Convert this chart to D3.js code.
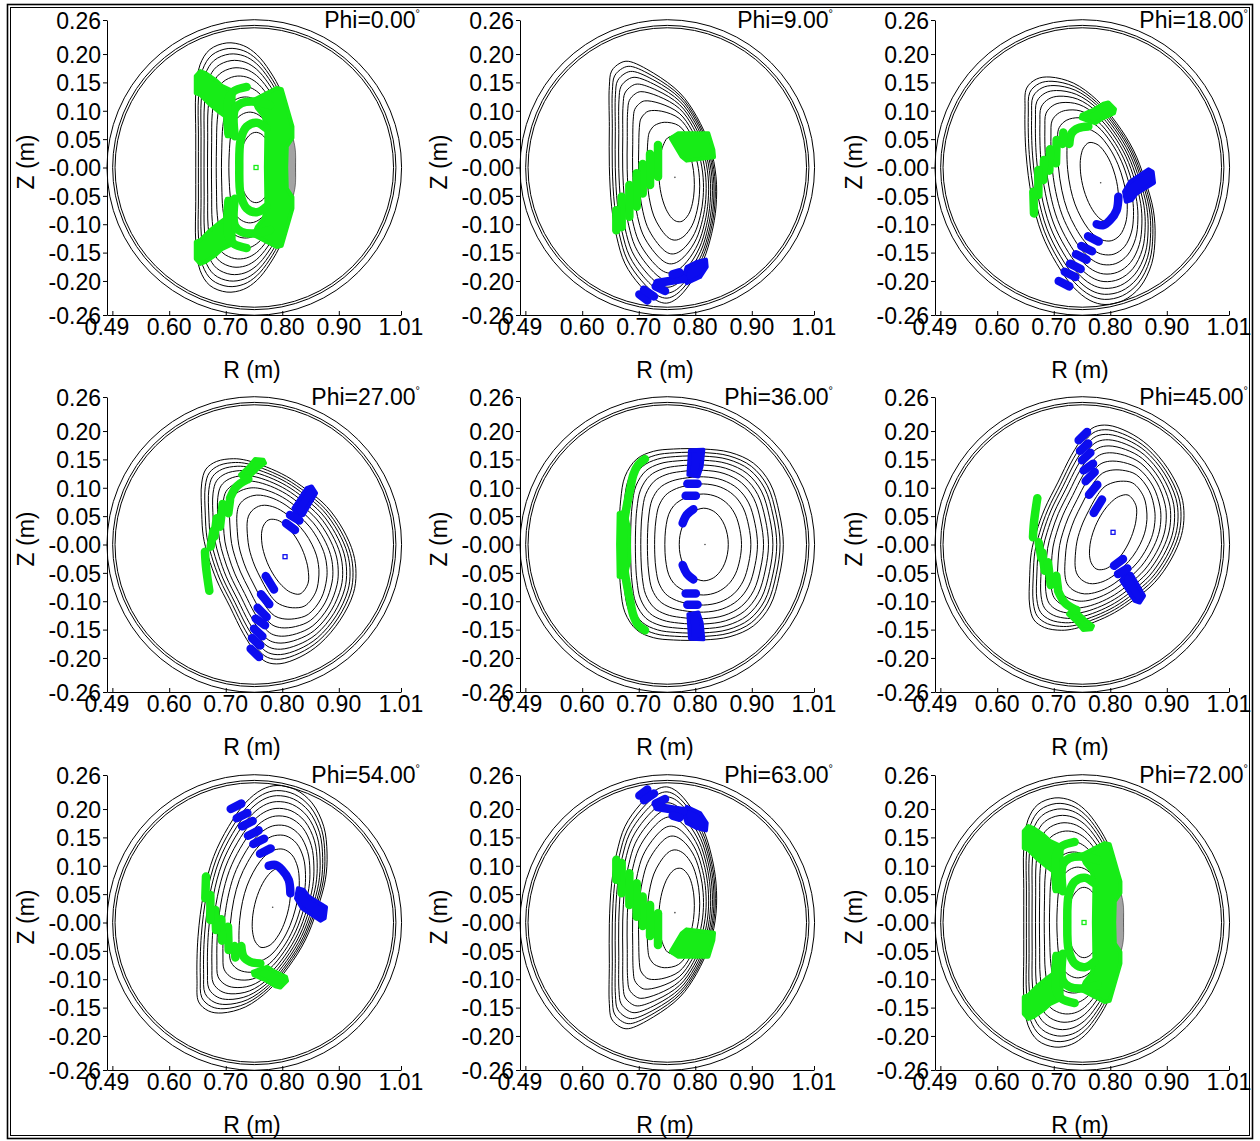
<!DOCTYPE html>
<html>
<head>
<meta charset="utf-8">
<script src="https://cdnjs.cloudflare.com/ajax/libs/d3/7.8.5/d3.min.js"></script>
<style>
  body { margin: 0; background: #fff; }
  svg { display: block; }
  text { font-family: "Liberation Sans", Arial, Helvetica, sans-serif; fill: #000; }
</style>
</head>
<body>
<svg id="chart" width="1260" height="1141"></svg>
<script>
"use strict";

// ---- axes / labels ----
const phiLabels = ['0.00', '9.00', '18.00', '27.00', '36.00', '45.00', '54.00', '63.00', '72.00'];
const yTickValues = [0.26, 0.20, 0.15, 0.10, 0.05, 0, -0.05, -0.10, -0.15, -0.20, -0.26];
const yTickLabels = ['0.26', '0.20', '0.15', '0.10', '0.05', '-0.00', '-0.05', '-0.10', '-0.15', '-0.20', '-0.26'];
const xTickValues = [0.4995, 0.60, 0.70, 0.80, 0.90, 1.01];
const xLabelValues = [0.49, 0.60, 0.70, 0.80, 0.90, 1.01];
const xTickLabels = ['0.49', '0.60', '0.70', '0.80', '0.90', '1.01'];

// vacuum vessel (R, Z centre and radii, m)
const vesselCenter = [0.7505, 0];
const vesselRadii = [0.2605, 0.2505, 0.2463];

// flux surfaces go from the core ellipse (0) to the boundary (1)
const surfaceLevels = [0, 0.24, 0.41, 0.53, 0.64, 0.73, 0.81, 0.88, 0.94, 1];

// ---- Phi = 0 ----
const axis00 = [0.7536, 0];
const core00 = [0.7536, 0, 0.062, 0.0296, 90];   // R0, Z0, semi-major, semi-minor, tilt (deg)
const outer00 = [[0.8226, 0], [0.8166, 0.0604], [0.799, 0.131], [0.778, 0.170], [0.755, 0.199], [0.731, 0.215],
  [0.702, 0.2196], [0.672, 0.208], [0.6545, 0.181], [0.647, 0.131], [0.647, 0.060], [0.647, 0], [0.647, -0.060],
  [0.647, -0.131], [0.6545, -0.181], [0.672, -0.208], [0.702, -0.2196], [0.731, -0.215], [0.755, -0.199],
  [0.778, -0.170], [0.799, -0.131], [0.8166, -0.0604]];
const dense00 = [[0.806, 0], [0.809, 0.035], [0.8165, 0.055], [0.8226, 0.035], [0.8235, 0], [0.8226, -0.035],
  [0.8165, -0.055], [0.809, -0.035]];
const greenPatches00 = [
  [[0.647, 0.161], [0.655, 0.170], [0.663, 0.167], [0.681, 0.155], [0.693, 0.144], [0.708, 0.137], [0.714, 0.128],
    [0.714, 0.102], [0.711, 0.055], [0.702, 0.055], [0.699, 0.090], [0.687, 0.099], [0.672, 0.111], [0.655, 0.128], [0.647, 0.131]],
  [[0.647, -0.161], [0.655, -0.170], [0.663, -0.167], [0.681, -0.155], [0.693, -0.144], [0.708, -0.137], [0.714, -0.128],
    [0.714, -0.102], [0.711, -0.055], [0.702, -0.055], [0.699, -0.090], [0.687, -0.099], [0.672, -0.111], [0.655, -0.128], [0.647, -0.131]],
  [[0.749, 0.119], [0.761, 0.125], [0.790, 0.140], [0.799, 0.138], [0.818, 0.072], [0.818, 0.052], [0.808, 0.037],
    [0.807, 0], [0.808, -0.037], [0.818, -0.052], [0.818, -0.072], [0.799, -0.138], [0.790, -0.140], [0.761, -0.125],
    [0.749, -0.119], [0.755, -0.105], [0.767, -0.090], [0.772, -0.069], [0.771, 0], [0.772, 0.069], [0.767, 0.090], [0.755, 0.105]]
];
const greenLines00 = [
  [[0.772, 0.069], [0.755, 0.079], [0.737, 0.072], [0.7265, 0.049], [0.724, 0], [0.7265, -0.049], [0.737, -0.072], [0.755, -0.079], [0.772, -0.069]],
  [[0.716, 0.055], [0.716, 0.102], [0.728, 0.1135], [0.755, 0.116], [0.778, 0.110]],
  [[0.716, -0.055], [0.716, -0.102], [0.728, -0.1135], [0.755, -0.116], [0.778, -0.110]],
  [[0.7046, 0.060], [0.7046, 0.119], [0.7135, 0.134], [0.737, 0.142]],
  [[0.7046, -0.060], [0.7046, -0.119], [0.7135, -0.134], [0.737, -0.142]]
];

// ---- Phi = 9 ----
const axis09 = [0.764, -0.0174];
const core09 = [0.767, -0.019, 0.077, 0.031, 94];
const outer09 = [[0.648, 0.143], [0.652, 0.170], [0.667, 0.184], [0.6816, 0.1872], [0.7258, 0.1666], [0.773, 0.1312],
  [0.8025, 0.0899], [0.8261, 0.0368], [0.8367, -0.0162], [0.8367, -0.0693], [0.829, -0.1164], [0.8143, -0.1636],
  [0.7907, -0.2049], [0.7671, -0.2314], [0.7494, -0.2391], [0.7317, -0.2344], [0.7023, -0.2078], [0.6757, -0.1695],
  [0.661, -0.1223], [0.6521, -0.0693], [0.648, 0.0015], [0.648, 0.0722]];
const greenPatches09 = [
  [[0.7565, 0.0516], [0.7701, 0.0604], [0.8231, 0.0604], [0.832, 0.031], [0.8332, 0.018], [0.7848, 0.0121], [0.776, 0.0192]]
];
const greenLines09 = [
  [[0.7341, 0.0398], [0.7341, -0.0162]],
  [[0.7200, 0.0239], [0.7200, -0.031]],
  [[0.7070, 0.0062], [0.7070, -0.0457]],
  [[0.6964, -0.0103], [0.6964, -0.0693]],
  [[0.6834, -0.031], [0.6834, -0.087]],
  [[0.6698, -0.0516], [0.6698, -0.1047]],
  [[0.6604, -0.0752], [0.6604, -0.1105]]
];
const bluePatches09 = [
  [[0.7789, -0.1931], [0.7848, -0.1754], [0.8025, -0.1666], [0.819, -0.1624], [0.8202, -0.1754], [0.8084, -0.1931], [0.7848, -0.2037]]
];
const blueLines09 = [
  [[0.7011, -0.2237], [0.7152, -0.2344]],
  [[0.7093, -0.2155], [0.727, -0.2273]],
  [[0.730, -0.2096], [0.7465, -0.2178]],
  [[0.7329, -0.2037], [0.7789, -0.196]],
  [[0.760, -0.1884], [0.7718, -0.1848]]
];

// ---- Phi = 18 ----
const axis18 = [0.783, -0.027];
const core18 = [0.7807, -0.0257, 0.072, 0.030, 104];
const outer18 = [[0.6492, 0.1017], [0.6521, 0.140], [0.6698, 0.156], [0.6934, 0.1595], [0.7347, 0.1489], [0.776, 0.1194],
  [0.8113, 0.0781], [0.8408, 0.031], [0.8615, -0.0221], [0.8762, -0.0752], [0.8792, -0.1223], [0.8733, -0.1695],
  [0.8526, -0.2108], [0.8231, -0.2344], [0.7907, -0.2415], [0.7642, -0.2344], [0.7347, -0.2108], [0.7052, -0.1695],
  [0.6787, -0.1164], [0.661, -0.0516], [0.651, 0.025]];
const greenPatches18 = [
  [[0.7494, 0.0929], [0.7701, 0.1017], [0.7878, 0.1123], [0.7966, 0.1147], [0.8084, 0.1029], [0.8066, 0.0958],
    [0.7878, 0.087], [0.773, 0.0781], [0.7583, 0.0829], [0.7477, 0.087]]
];
const greenLines18 = [
  [[0.7276, 0.0416], [0.7317, 0.0604], [0.7435, 0.0693], [0.7612, 0.0722]],
  [[0.717, 0.0616], [0.7158, 0.0416]],
  [[0.7052, 0.0486], [0.704, 0.0074]],
  [[0.6934, 0.0321], [0.6922, -0.0056]],
  [[0.6828, 0.0133], [0.6816, -0.0221]],
  [[0.6728, -0.0044], [0.6728, -0.0486]],
  [[0.6639, -0.0427], [0.6651, -0.0811]]
];
const bluePatches18 = [
  [[0.8243, -0.0427], [0.8349, -0.0251], [0.8674, -0.0032], [0.875, -0.0074], [0.8774, -0.0268], [0.8467, -0.0457],
    [0.8379, -0.0575], [0.8278, -0.0604]]
];
const blueLines18 = [
  [[0.8143, -0.0516], [0.8113, -0.0752], [0.7996, -0.0929], [0.7878, -0.1017], [0.776, -0.0999]],
  [[0.7607, -0.1212], [0.7795, -0.1306]],
  [[0.7489, -0.1383], [0.7677, -0.1477]],
  [[0.7394, -0.153], [0.7582, -0.1624]],
  [[0.7288, -0.1695], [0.7476, -0.1789]],
  [[0.7194, -0.1837], [0.7382, -0.1931]],
  [[0.7088, -0.2002], [0.7276, -0.2096]]
];

// ---- Phi = 27 ----
const axis27 = [0.8049, -0.0215];
const core27 = [0.8049, -0.0215, 0.071, 0.033, 114];
const outer27 = [[0.6575, 0.1082], [0.6651, 0.133], [0.684, 0.1465], [0.7135, 0.1512], [0.7371, 0.1483], [0.7724, 0.1365],
  [0.8078, 0.12], [0.8432, 0.0964], [0.8786, 0.0669], [0.908, 0.0256], [0.9257, -0.0156], [0.9304, -0.051],
  [0.9257, -0.0864], [0.9021, -0.1336], [0.8668, -0.1748], [0.8314, -0.1984], [0.796, -0.2102], [0.7724, -0.2073],
  [0.7547, -0.1926], [0.7312, -0.1572], [0.7076, -0.11], [0.684, -0.0628], [0.6692, -0.0215], [0.6604, 0.0139], [0.6575, 0.0551]];
const greenPatches27 = [
  [[0.7253, 0.1229], [0.74, 0.1365], [0.7518, 0.1506], [0.7665, 0.1494], [0.7695, 0.1435], [0.7547, 0.1318], [0.743, 0.12], [0.7282, 0.1188]]
];
const greenLines27 = [
  [[0.671, -0.0817], [0.6651, -0.0392], [0.6633, -0.0127]],
  [[0.6734, -0.0038], [0.6781, 0.0245]],
  [[0.6799, 0.0139], [0.684, 0.0463]],
  [[0.6899, 0.0315], [0.6946, 0.0716]],
  [[0.7046, 0.0551], [0.7076, 0.0787]],
  [[0.7076, 0.0817], [0.7194, 0.1023], [0.7371, 0.1141], [0.74, 0.1153]]
];
const bluePatches27 = [
  [[0.8196, 0.0639], [0.8432, 0.0993], [0.852, 0.1023], [0.8597, 0.0905], [0.8373, 0.0522], [0.8272, 0.048]]
];
const blueLines27 = [
  [[0.8137, 0.0522], [0.8302, 0.0422]],
  [[0.8066, 0.0374], [0.8225, 0.0256]],
  [[0.7707, -0.0557], [0.7854, -0.0793]],
  [[0.7624, -0.0876], [0.7771, -0.1052]],
  [[0.7565, -0.1117], [0.7724, -0.1277]],
  [[0.753, -0.1306], [0.7695, -0.1424]],
  [[0.75, -0.1483], [0.7648, -0.1618]],
  [[0.7465, -0.165], [0.761, -0.178]],
  [[0.7441, -0.1837], [0.7589, -0.1984]]
];

// ---- Phi = 36 ----
const axis36 = [0.8172, 0];
const core36 = [0.815, 0, 0.064, 0.0434, 90];
const outer36 = [[0.9558, 0], [0.9487, 0.0551], [0.9322, 0.1082], [0.9027, 0.1436], [0.8615, 0.1624], [0.8143, 0.1683],
  [0.7612, 0.1683], [0.7258, 0.1642], [0.6964, 0.1506], [0.6757, 0.12], [0.6681, 0.0787], [0.6657, 0.0315],
  [0.6657, -0.0315], [0.6681, -0.0787], [0.6757, -0.12], [0.6964, -0.1506], [0.7258, -0.1642], [0.7612, -0.1683],
  [0.8143, -0.1683], [0.8615, -0.1624], [0.9027, -0.1436], [0.9322, -0.1082], [0.9487, -0.0551]];
const greenPatches36 = [
  [[0.6645, 0.055], [0.676, 0.058], [0.6825, 0.03], [0.683, -0.03], [0.676, -0.058], [0.6645, -0.057], [0.6635, 0]]
];
const greenLines36 = [
  [[0.7111, 0.1506], [0.6993, 0.1406], [0.6905, 0.1229], [0.6846, 0.0964], [0.6787, 0.0669], [0.674, 0.0374], [0.6728, 0],
    [0.674, -0.0392], [0.6787, -0.0687], [0.6846, -0.0982], [0.6905, -0.1247], [0.6993, -0.1424], [0.7111, -0.1512]]
];
const bluePatches36 = [
  [[0.7907, 0.166], [0.8143, 0.1672], [0.8113, 0.1377], [0.8054, 0.12], [0.7878, 0.1229]],
  [[0.7907, -0.166], [0.8143, -0.1672], [0.8113, -0.1377], [0.8054, -0.12], [0.7878, -0.1229]]
];
const blueLines36 = [
  [[0.786, 0.107], [0.804, 0.107]],
  [[0.783, 0.0858], [0.801, 0.0858]],
  [[0.7966, 0.0622], [0.7848, 0.0522], [0.7777, 0.0374]],
  [[0.7777, -0.0363], [0.7848, -0.051], [0.7966, -0.0616]],
  [[0.783, -0.0864], [0.801, -0.0864]],
  [[0.786, -0.1064], [0.804, -0.1064]]
];

const sections = [
  { axis: axis00, axisMark: 'green', core: core00, outer: outer00, dense: dense00,
    greenPatches: greenPatches00, greenLines: greenLines00, bluePatches: [], blueLines: [] },
  { axis: axis09, axisMark: 'dot', core: core09, outer: outer09, dense: null,
    greenPatches: greenPatches09, greenLines: greenLines09, bluePatches: bluePatches09, blueLines: blueLines09 },
  { axis: axis18, axisMark: 'dot', core: core18, outer: outer18, dense: null,
    greenPatches: greenPatches18, greenLines: greenLines18, bluePatches: bluePatches18, blueLines: blueLines18 },
  { axis: axis27, axisMark: 'blue', core: core27, outer: outer27, dense: null,
    greenPatches: greenPatches27, greenLines: greenLines27, bluePatches: bluePatches27, blueLines: blueLines27 },
  { axis: axis36, axisMark: 'dot', core: core36, outer: outer36, dense: null,
    greenPatches: greenPatches36, greenLines: greenLines36, bluePatches: bluePatches36, blueLines: blueLines36 }
];

// Phi and 72-Phi are the same section mirrored in Z (stellarator symmetry)
const panelSource = [0, 1, 2, 3, 4, 3, 2, 1, 0];
const panelFlip = [false, false, false, false, false, true, true, true, true];

// ---- layout ----
const colLeft = [107, 520, 935];
const rowTop = [20, 397, 775];
const plotW = 294;
const plotH = 295;
const GREEN = '#17ec17';
const BLUE = '#0c0cef';
const FONT = 23;

const svg = d3.select('#chart');
svg.append('rect').attr('width', 1260).attr('height', 1141).attr('fill', '#fff');
svg.append('rect').attr('x', 7.5).attr('y', 4.5).attr('width', 1245).attr('height', 1134)
  .attr('fill', 'none').attr('stroke', '#000').attr('stroke-width', 1.6);
svg.append('rect').attr('x', 10.5).attr('y', 7.5).attr('width', 1239).attr('height', 1128)
  .attr('fill', 'none').attr('stroke', '#000').attr('stroke-width', 1);

function nestedSurfaces(outer, core) {
  const [cR, cZ, a, b, tiltDeg] = core;
  const tilt = tiltDeg * Math.PI / 180;
  return surfaceLevels.map((s) => outer.map(([R, Z]) => {
    const dR = R - cR, dZ = Z - cZ;
    const rOut = Math.hypot(dR, dZ);
    const psi = Math.atan2(dZ, dR) - tilt;
    const rIn = a * b / Math.hypot(b * Math.cos(psi), a * Math.sin(psi));
    const r = rIn + s * (rOut - rIn);
    return [cR + dR / rOut * r, cZ + dZ / rOut * r];
  }));
}

phiLabels.forEach((phi, i) => {
  const L = colLeft[i % 3];
  const T = rowTop[Math.floor(i / 3)];
  const src = sections[panelSource[i]];
  const f = panelFlip[i] ? -1 : 1;
  const m = (p) => [p[0], f * p[1]];
  const mList = (pts) => pts.map(m);

  const x = d3.scaleLinear().domain([0.49, 1.01]).range([L, L + plotW]);
  const y = d3.scaleLinear().domain([-0.26, 0.26]).range([T + plotH, T]);

  const smoothClosed = d3.line().x((d) => x(d[0])).y((d) => y(d[1])).curve(d3.curveCatmullRomClosed.alpha(0.5));
  const polygon = d3.line().x((d) => x(d[0])).y((d) => y(d[1])).curve(d3.curveLinearClosed);
  const trail = d3.line().x((d) => x(d[0])).y((d) => y(d[1])).curve(d3.curveCatmullRom.alpha(0.5));

  const g = svg.append('g').attr('class', 'panel');

  // vessel walls
  g.selectAll('ellipse.wall').data(vesselRadii).join('ellipse')
    .attr('class', 'wall')
    .attr('cx', x(vesselCenter[0])).attr('cy', y(vesselCenter[1]))
    .attr('rx', (r) => x(vesselCenter[0] + r) - x(vesselCenter[0]))
    .attr('ry', (r) => y(vesselCenter[1]) - y(vesselCenter[1] + r))
    .attr('fill', 'none').attr('stroke', '#000').attr('stroke-width', 1);

  // flux surfaces
  const core = [src.core[0], f * src.core[1], src.core[2], src.core[3], f * src.core[4]];
  g.selectAll('path.surf').data(nestedSurfaces(mList(src.outer), core)).join('path')
    .attr('class', 'surf')
    .attr('d', smoothClosed)
    .attr('fill', 'none').attr('stroke', '#000').attr('stroke-width', 1);

  if (src.dense) {
    g.append('path').attr('d', smoothClosed(mList(src.dense)))
      .attr('fill', '#a3a3a3').attr('stroke', '#333').attr('stroke-width', 0.6);
  }

  // Poincare points
  [[src.greenPatches, GREEN], [src.bluePatches, BLUE]].forEach(([patches, color]) => {
    g.selectAll(null).data(patches.map(mList)).join('path')
      .attr('d', polygon)
      .attr('fill', color).attr('stroke', color).attr('stroke-width', 4)
      .attr('stroke-linejoin', 'round');
  });
  [[src.greenLines, GREEN], [src.blueLines, BLUE]].forEach(([lines, color]) => {
    g.selectAll(null).data(lines.map(mList)).join('path')
      .attr('d', trail)
      .attr('fill', 'none').attr('stroke', color).attr('stroke-width', 8.5)
      .attr('stroke-linecap', 'round').attr('stroke-linejoin', 'round');
  });

  // magnetic axis
  const ax = m(src.axis);
  if (src.axisMark === 'dot') {
    g.append('circle').attr('cx', x(ax[0])).attr('cy', y(ax[1])).attr('r', 0.8).attr('fill', '#444');
  } else {
    g.append('rect').attr('x', x(ax[0]) - 2).attr('y', y(ax[1]) - 2).attr('width', 4).attr('height', 4)
      .attr('fill', 'none').attr('stroke', src.axisMark === 'green' ? GREEN : BLUE).attr('stroke-width', 1.3);
  }

  // axes
  const yAxis = d3.axisLeft(y).tickValues(yTickValues).tickFormat((d, k) => yTickLabels[k])
    .tickSize(4).tickSizeOuter(0).tickPadding(2);
  const gy = g.append('g').attr('transform', `translate(${L},0)`).call(yAxis);
  gy.selectAll('text').attr('font-size', FONT).attr('font-family', null).attr('dy', '0.36em');

  const xAxis = d3.axisBottom(x).tickValues(xTickValues).tickFormat('')
    .tickSize(-4).tickSizeOuter(0);
  g.append('g').attr('transform', `translate(0,${T + plotH})`).call(xAxis);

  g.selectAll('text.xlab').data(xLabelValues).join('text')
    .attr('class', 'xlab')
    .attr('x', (d) => x(d)).attr('y', T + plotH + 20)
    .attr('text-anchor', 'middle').attr('font-size', FONT)
    .text((d, k) => xTickLabels[k]);

  g.selectAll('.domain, .tick line').attr('stroke', '#000').attr('stroke-width', 1);

  g.append('text').attr('x', L + 145).attr('y', T + plotH + 63)
    .attr('text-anchor', 'middle').attr('font-size', FONT).text('R (m)');
  g.append('text').attr('transform', `translate(${L - 73},${T + 142}) rotate(-90)`)
    .attr('text-anchor', 'middle').attr('font-size', FONT).text('Z (m)');

  const title = g.append('text').attr('x', L + 313).attr('y', T + 8)
    .attr('text-anchor', 'end').attr('font-size', FONT);
  title.append('tspan').text('Phi=' + phi);
  title.append('tspan').attr('font-size', 11).attr('dy', -11).text('°');
});
</script>
</body>
</html>
